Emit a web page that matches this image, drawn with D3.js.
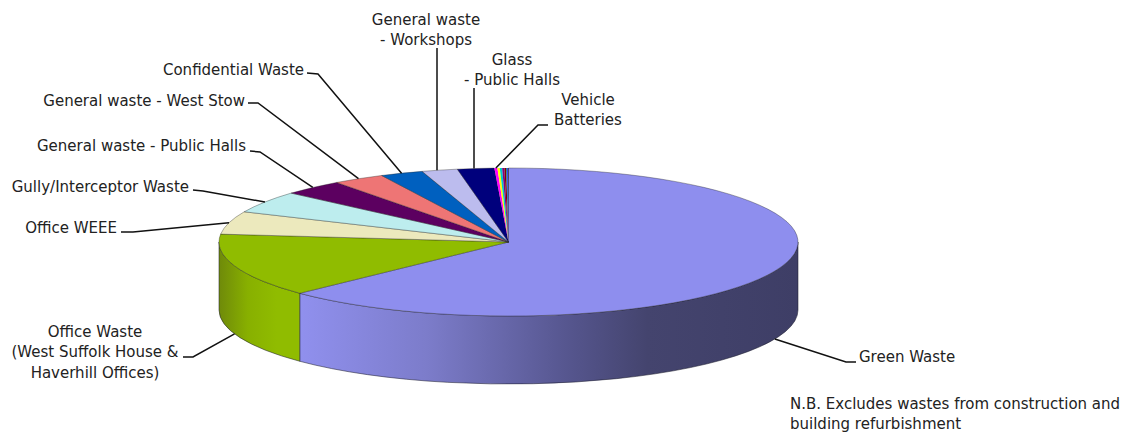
<!DOCTYPE html>
<html>
<head>
<meta charset="utf-8">
<style>
html,body{margin:0;padding:0;background:#fff}
svg{display:block}
text{font-family:"DejaVu Sans",sans-serif;font-size:15px;fill:#222}
</style>
<script src="https://cdn.jsdelivr.net/npm/d3@7/dist/d3.min.js"></script>
</head>
<body>
<script>
// Waste streams, clockwise from twelve o'clock (share of total tonnage, %)
const streams = ["Green Waste","Office Waste","Office WEEE","Gully/Interceptor Waste",
  "General waste - Public Halls","General waste - West Stow","Confidential Waste",
  "General waste - Workshops","Glass - Public Halls","Vehicle Batteries",
  "minor1","minor2","minor3","minor4","minor5","minor6","minor7"];
const shares = [62.9,13.9,5.0,4.8,3.4,2.9,2.4,2.0,2.05,0.17,0.13,0.13,0.12,0.1,0.06,0.04,0.03];
const colours = ["#8e8eee","#90bc00","#ece9bd","#bdedee","#5c0060","#ee7575","#0060bf",
  "#bcbcee","#00007c","#ff00ff","#ffff00","#00c8c8","#800080","#800000","#008080","#0000ff","#111111"];

// Callout layout: text lines with anchor position, leader elbow points.
// Plumb leaders drop straight down from their elbow onto the rim.
const callouts = [
  {i:0, lines:["Green Waste"], x:859, y:362, anchor:"start", elbow:[[846,362],[856,362]]},
  {i:1, lines:["Office Waste","(West Suffolk House &","Haverhill Offices)"], x:95, y:337, anchor:"middle", elbow:[[193,357],[183,357]]},
  {i:2, lines:["Office WEEE"], x:117, y:233, anchor:"end", elbow:[[133,232],[121,232]]},
  {i:3, lines:["Gully/Interceptor Waste"], x:189, y:192, anchor:"end", elbow:[[203,191],[193,190]]},
  {i:4, lines:["General waste - Public Halls"], x:246, y:151, anchor:"end", elbow:[[260,152],[250,151]]},
  {i:5, lines:["General waste - West Stow"], x:245, y:106, anchor:"end", elbow:[[258,103],[248,103]]},
  {i:6, lines:["Confidential Waste"], x:304, y:75, anchor:"end", elbow:[[318,74],[307,73]]},
  {i:7, lines:["General waste","- Workshops"], x:426, y:25, anchor:"middle", elbow:[[437,48]], plumb:true},
  {i:8, lines:["Glass","- Public Halls"], x:512, y:65, anchor:"middle", elbow:[[474,88]], plumb:true},
  {i:9, lines:["Vehicle","Batteries"], x:588, y:105, anchor:"middle", elbow:[[538,125],[548,125]]}
];
const noteLines = ["N.B. Excludes wastes from construction and","building refurbishment"];

const W = 1128, H = 434;
const cx = 508.5, cy = 242, rx = 289.5, ry = 74, depth = 68;

const svg = d3.select("body").append("svg").attr("width",W).attr("height",H);
const defs = svg.append("defs");

// Side-wall shading runs left to right across the disc
const shade = (id, stops) => {
  const g = defs.append("linearGradient").attr("id",id).attr("gradientUnits","userSpaceOnUse")
    .attr("x1",cx-rx).attr("x2",cx+rx).attr("y1",0).attr("y2",0);
  stops.forEach(([o,c]) => g.append("stop").attr("offset",o).attr("stop-color",c));
};
shade("wallBlue",[[0,"#9a9af5"],[0.14,"#9090ee"],[0.36,"#7c7cca"],[0.6,"#56568f"],[0.74,"#44446e"],[1,"#3e3e66"]]);
shade("wallGreen",[[0,"#6f8a0a"],[0.05,"#88b000"],[0.1,"#90bc00"],[1,"#90bc00"]]);

const arcs = d3.pie().sort(null).value(d=>d)(shares);
const px = a => cx + rx*Math.sin(a);
const py = a => cy - ry*Math.cos(a);

// Front wall: only the part of each slice between 3 and 9 o'clock is visible
const wall = (a0,a1) => {
  const s = Math.max(a0,Math.PI/2), e = Math.min(a1,Math.PI*1.5);
  if (e <= s) return null;
  return `M${px(s)},${py(s)}A${rx},${ry} 0 0 1 ${px(e)},${py(e)}L${px(e)},${py(e)+depth}`+
         `A${rx},${ry} 0 0 0 ${px(s)},${py(s)+depth}Z`;
};
svg.append("g").selectAll("path").data(arcs.slice(0,2)).join("path")
  .attr("d",d=>wall(d.startAngle,d.endAngle))
  .attr("fill",(d,i)=>i===0?"url(#wallBlue)":"url(#wallGreen)")
  .attr("stroke","#1e1e2e").attr("stroke-opacity",0.6).attr("stroke-width",0.9);

// Top face: a flattened d3.arc pie; the slimmest slices carry no outline
const arcGen = d3.arc().innerRadius(0).outerRadius(rx);
svg.append("g").attr("transform",`translate(${cx},${cy}) scale(1,${ry/rx})`)
  .selectAll("path").data(arcs).join("path")
  .attr("d",arcGen)
  .attr("fill",(d,i)=>colours[i])
  .attr("stroke",d=>d.value>1?"#222":"none").attr("stroke-opacity",0.45).attr("stroke-width",0.8)
  .attr("vector-effect","non-scaling-stroke");

// Leaders start on the rim at each slice's mid-angle
const line = d3.line();
svg.append("g").selectAll("path").data(callouts).join("path")
  .attr("fill","none").attr("stroke","#111").attr("stroke-width",1.5)
  .attr("d",c=>{
    const a = (arcs[c.i].startAngle+arcs[c.i].endAngle)/2;
    const front = a>Math.PI/2 && a<Math.PI*1.5;
    const startX = c.plumb ? c.elbow[0][0] : px(a);
    return line([[startX,py(a)+(front?depth:0)],...c.elbow]);
  });

// Callout text
const labels = svg.append("g").selectAll("text").data(callouts).join("text")
  .attr("text-anchor",c=>c.anchor);
labels.each(function(c){
  d3.select(this).selectAll("tspan").data(c.lines).join("tspan")
    .attr("x",c.x).attr("y",(l,j)=>c.y+j*20.3).text(l=>l);
});

svg.append("g").selectAll("text").data(noteLines).join("text")
  .attr("x",790).attr("y",(l,j)=>409+j*20).text(l=>l);
</script>
</body>
</html>
